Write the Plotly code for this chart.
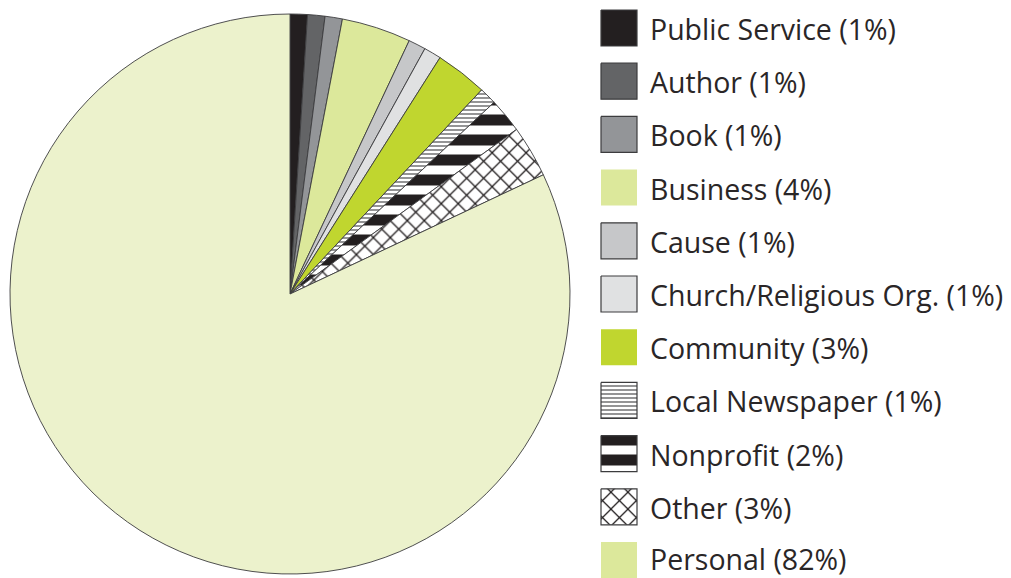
import plotly.graph_objects as go

# Share of responses by category (percent)
categories = ["Public Service", "Author", "Book", "Business", "Cause",
              "Church/Religious Org.", "Community", "Local Newspaper",
              "Nonprofit", "Other", "Personal"]
shares = [1, 1, 1, 4, 1, 1, 3, 1, 2, 3, 82]

# Slice styling
slice_colors = ["#231f20", "#636466", "#939598", "#dce89b", "#c6c7c9",
                "#e0e1e2", "#c0d62f", "#ffffff", "#231f20", "#ffffff", "#ecf2cc"]
swatch_colors = slice_colors[:-1] + ["#dce89b"]
pattern_shapes = ["", "", "", "", "", "", "", "-", "-", "x", ""]
pattern_fg = ["", "", "", "", "", "", "", "#4d4d4f", "#ffffff", "#231f20", ""]
pattern_size = [8, 8, 8, 8, 8, 8, 8, 4, 20, 12, 8]
pattern_solidity = [0.3, 0.3, 0.3, 0.3, 0.3, 0.3, 0.3, 0.3, 0.45, 0.2, 0.3]
swatch_outline = [True, True, True, False, True, True, False, True, True, True, False]

W, H = 1011, 578

fig = go.Figure()

fig.add_trace(go.Pie(
    labels=categories,
    values=shares,
    sort=False,
    direction="clockwise",
    rotation=0,
    textinfo="none",
    hoverinfo="label+percent",
    showlegend=False,
    domain=dict(x=[10 / W, 570 / W], y=[4 / H, 564 / H]),
    marker=dict(
        colors=slice_colors,
        line=dict(color="#3c3c3e", width=0.9),
        pattern=dict(
            shape=pattern_shapes,
            fgcolor=[c if c else "#000000" for c in pattern_fg],
            bgcolor=slice_colors,
            fgopacity=1,
            size=pattern_size,
            solidity=pattern_solidity,
            fillmode="overlay",
        ),
    ),
))

# Legend: one swatch + label per category, laid out in pixel units
x0, side, top0, step = 601, 36, 10, 53.2
for i, (name, pct) in enumerate(zip(categories, shares)):
    y0 = top0 + i * step
    xs = [x0, x0 + side, x0 + side, x0, x0]
    ys = [y0, y0, y0 + side, y0 + side, y0]
    fp = None
    if pattern_shapes[i]:
        fp = dict(shape=pattern_shapes[i], fgcolor=pattern_fg[i],
                  bgcolor=swatch_colors[i], fgopacity=1, size=pattern_size[i],
                  solidity=pattern_solidity[i], fillmode="overlay")
    fig.add_trace(go.Scatter(
        x=xs, y=ys, xaxis="x2", yaxis="y2", mode="lines",
        fill="toself", fillcolor=swatch_colors[i],
        fillpattern=fp,
        line=dict(color="#3c3c3e" if swatch_outline[i] else swatch_colors[i],
                  width=1.2 if swatch_outline[i] else 0),
        hoverinfo="skip", showlegend=False,
    ))
    fig.add_annotation(
        x=649, y=min(y0 + side / 2 + 1, H - 19), xref="x2", yref="y2",
        text=f"{name} ({pct}%)", showarrow=False,
        xanchor="left", yanchor="middle", borderpad=0,
        font=dict(family="Open Sans, sans-serif", size=28.5, color="#2a2627"),
    )

fig.update_layout(
    width=W, height=H,
    margin=dict(l=0, r=0, t=0, b=0),
    paper_bgcolor="white", plot_bgcolor="rgba(0,0,0,0)",
    xaxis2=dict(domain=[0, 1], range=[0, W], visible=False, fixedrange=True),
    yaxis2=dict(domain=[0, 1], range=[H, 0], visible=False, fixedrange=True),
)

fig.write_html("out.html")
